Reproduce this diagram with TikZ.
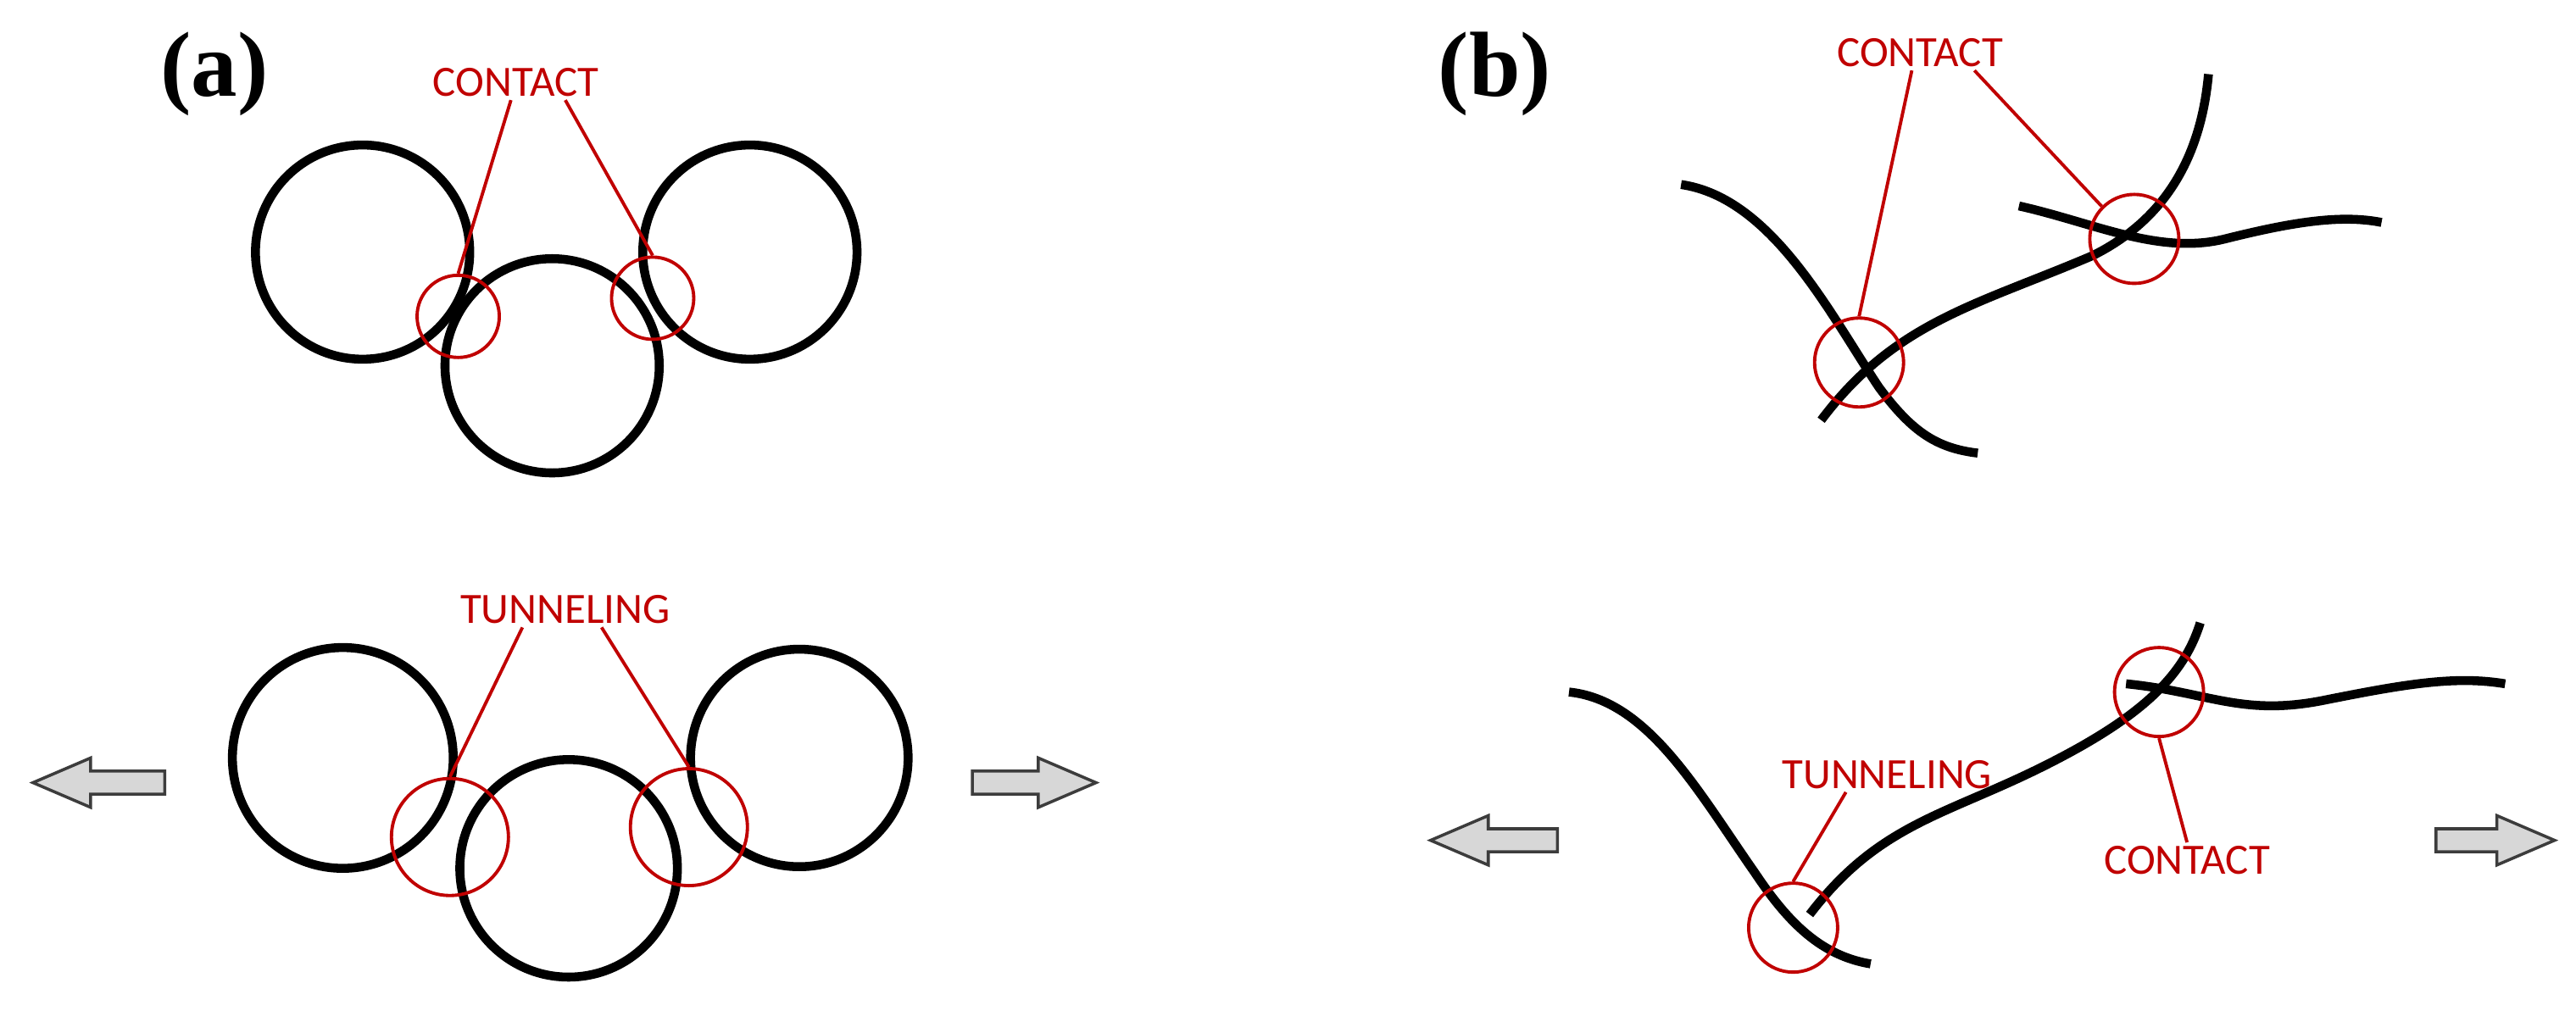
\documentclass[tikz,border=0pt]{standalone}
\usepackage{fontspec}
\setmainfont{Carlito}
\newfontfamily\lblfont{Liberation Serif}
\begin{document}
\begin{tikzpicture}[x=0.01944cm,y=-0.01944cm,
  wire/.style={line width=3pt,black},
  ring/.style={line width=1.1pt,draw={rgb,255:red,192;green,0;blue,0},circle,inner sep=0pt},
  lead/.style={line width=1.1pt,draw={rgb,255:red,192;green,0;blue,0}},
  lab/.style={text={rgb,255:red,192;green,0;blue,0},font=\fontsize{14.5}{17}\selectfont,inner sep=1pt},
  panel/.style={font=\lblfont\bfseries\fontsize{31}{36}\selectfont},
  arrowshape/.style={draw={rgb,255:red,60;green,60;blue,60},fill={rgb,255:red,215;green,215;blue,215},line width=1pt,line join=miter}]
\useasboundingbox (0,0) rectangle (1563,620);
\node[panel] (pa) at (130,45) {(a)};
\node[panel] (pb) at (907,45) {(b)};
% (a) top
\draw[wire] (220,153) circle (65);
\draw[wire] (335,222) circle (65);
\draw[wire] (455,153) circle (65);
\node[ring,minimum size=0.97cm] (ra1) at (278,192) {};
\node[ring,minimum size=0.97cm] (ra2) at (396,181) {};
\node[lab] (ca) at (313,50) {CONTACT};
\draw[lead] (ca.south) ++(-3,0) coordinate (ca1) -- (ra1.north);
\draw[lead] (ca.south) ++(30,0) coordinate (ca2) -- (ra2.north);
% (a) bottom
\draw[wire] (208,460) circle (67);
\draw[wire] (345,527) circle (66);
\draw[wire] (485,460) circle (66);
\node[ring,minimum size=1.38cm] (rb1) at (273,508) {};
\node[ring,minimum size=1.38cm] (rb2) at (418,502) {};
\node[lab] (ta) at (343,370) {TUNNELING};
\draw[lead] (ta.south) ++(-26,0) coordinate (ta1) -- (rb1.north);
\draw[lead] (ta.south) ++(22,0) coordinate (ta2) -- (rb2.north);
% arrows (a)
\draw[arrowshape] (20,475) -- (55,460) -- (55,468) -- (100,468) -- (100,482) -- (55,482) -- (55,490) -- cycle;
\draw[arrowshape] (665,475) -- (630,460) -- (630,468) -- (590,468) -- (590,482) -- (630,482) -- (630,490) -- cycle;
% (b) top
\draw[wire] (1020,112) .. controls (1075,120) and (1110,190) .. (1140,235) .. controls (1160,262) and (1175,272) .. (1200,275);
\draw[wire] (1105,255) .. controls (1150,195) and (1200,185) .. (1270,155) .. controls (1310,135) and (1335,100) .. (1340,45);
\draw[wire] (1225,125) .. controls (1270,135) and (1310,155) .. (1350,145) .. controls (1390,135) and (1420,130) .. (1445,135);
\node[ring,minimum size=1.05cm] (rc1) at (1128,220) {};
\node[ring,minimum size=1.05cm] (rc2) at (1295,145) {};
\node[lab] (cb) at (1165,32) {CONTACT};
\draw[lead] (cb.south) ++(-5,0) coordinate (cb1) -- (rc1.north);
\draw[lead] (cb.south) ++(33,0) coordinate (cb2) -- (rc2.north west);
% (b) bottom
\draw[wire] (952,420) .. controls (1000,425) and (1030,480) .. (1065,530) .. controls (1085,560) and (1105,580) .. (1135,585);
\draw[wire] (1098,555) .. controls (1140,500) and (1180,495) .. (1240,465) .. controls (1300,435) and (1325,410) .. (1335,378);
\draw[wire] (1290,415) .. controls (1340,420) and (1360,435) .. (1410,425) .. controls (1460,415) and (1490,410) .. (1520,415);
\node[ring,minimum size=1.05cm] (rd1) at (1088,563) {};
\node[ring,minimum size=1.05cm] (rd2) at (1310,420) {};
\node[lab] (tb) at (1145,470) {TUNNELING};
\draw[lead] (tb.south) ++(-25,0) coordinate (tb1) -- (rd1.north);
\node[lab] (cb3) at (1327,522) {CONTACT};
\draw[lead] (rd2.south) -- (cb3.north);
% arrows (b)
\draw[arrowshape] (868,510) -- (903,495) -- (903,503) -- (945,503) -- (945,517) -- (903,517) -- (903,525) -- cycle;
\draw[arrowshape] (1550,510) -- (1515,495) -- (1515,503) -- (1478,503) -- (1478,517) -- (1515,517) -- (1515,525) -- cycle;
\end{tikzpicture}
\end{document}
